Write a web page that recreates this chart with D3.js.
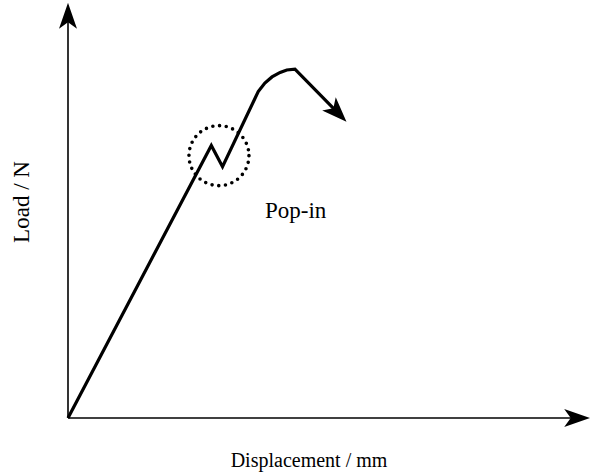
<!DOCTYPE html>
<html>
<head>
<meta charset="utf-8">
<script src="https://cdn.jsdelivr.net/npm/d3@7"></script>
<style>
  body { margin: 0; background: #fff; }
  svg { display: block; }
</style>
</head>
<body>
<svg id="plot"></svg>
<script>
// load-displacement curve (arbitrary units)
const displacement = [0, 2.81, 3.03, 3.73, 3.86, 4.0, 4.16, 4.29, 4.45, 5.22];
const load         = [0, 6.68, 6.16, 8.00, 8.21, 8.36, 8.47, 8.53, 8.55, 7.57];
// pop-in marker
const popIn = {x: 2.96, y: 6.43, label: "Pop-in"};
const xTitle = "Displacement / mm";
const yTitle = "Load / N";

const W = 590, H = 475;
const svg = d3.select("#plot").attr("width", W).attr("height", H);

const x = d3.scaleLinear().domain([0, 10]).range([68, 578]);
const y = d3.scaleLinear().domain([0, 10]).range([418, 10]);

const defs = svg.append("defs");
// notched filled arrowhead
function arrow(id, len, wid) {
  defs.append("marker")
    .attr("id", id)
    .attr("markerUnits", "userSpaceOnUse")
    .attr("viewBox", `0 ${-wid/2} ${len} ${wid}`)
    .attr("refX", len * 0.3)
    .attr("refY", 0)
    .attr("markerWidth", len)
    .attr("markerHeight", wid)
    .attr("orient", "auto")
    .append("path")
    .attr("d", `M0,${-wid/2} L${len},0 L0,${wid/2} L${len*0.25},0 Z`)
    .attr("fill", "#000");
}
arrow("axArrow", 26, 18);
arrow("curveArrow", 25, 19);

// axes (no ticks)
svg.append("line")
  .attr("x1", x(0)).attr("y1", y(0))
  .attr("x2", x(10) - 6).attr("y2", y(0))
  .attr("stroke", "#000").attr("stroke-width", 1.6)
  .attr("marker-end", "url(#axArrow)");
svg.append("line")
  .attr("x1", x(0)).attr("y1", y(0))
  .attr("x2", x(0)).attr("y2", y(10) + 11)
  .attr("stroke", "#000").attr("stroke-width", 1.6)
  .attr("marker-end", "url(#axArrow)");

// curve
const pts = displacement.map((d, i) => [d, load[i]]);
const line = d3.line().x(d => x(d[0])).y(d => y(d[1]));
svg.append("path")
  .attr("d", line(pts))
  .attr("fill", "none")
  .attr("stroke", "#000")
  .attr("stroke-width", 3.2)
  .attr("stroke-linejoin", "miter")
  .attr("marker-end", "url(#curveArrow)");

// dotted circle around pop-in
svg.append("circle")
  .attr("cx", x(popIn.x)).attr("cy", y(popIn.y))
  .attr("r", 30)
  .attr("fill", "none")
  .attr("stroke", "#000")
  .attr("stroke-width", 3.6)
  .attr("stroke-linecap", "round")
  .attr("stroke-dasharray", "0 6.75");

svg.append("text")
  .attr("x", 265).attr("y", 218)
  .style("font-family", "Liberation Serif")
  .style("font-size", "23px")
  .text(popIn.label);

svg.append("text")
  .attr("x", 309).attr("y", 467)
  .attr("text-anchor", "middle")
  .style("font-family", "Liberation Serif")
  .style("font-size", "20px")
  .text(xTitle);

svg.append("text")
  .attr("transform", "translate(29,202) rotate(-90)")
  .attr("text-anchor", "middle")
  .style("font-family", "Liberation Serif")
  .style("font-size", "23px")
  .text(yTitle);
</script>
</body>
</html>
